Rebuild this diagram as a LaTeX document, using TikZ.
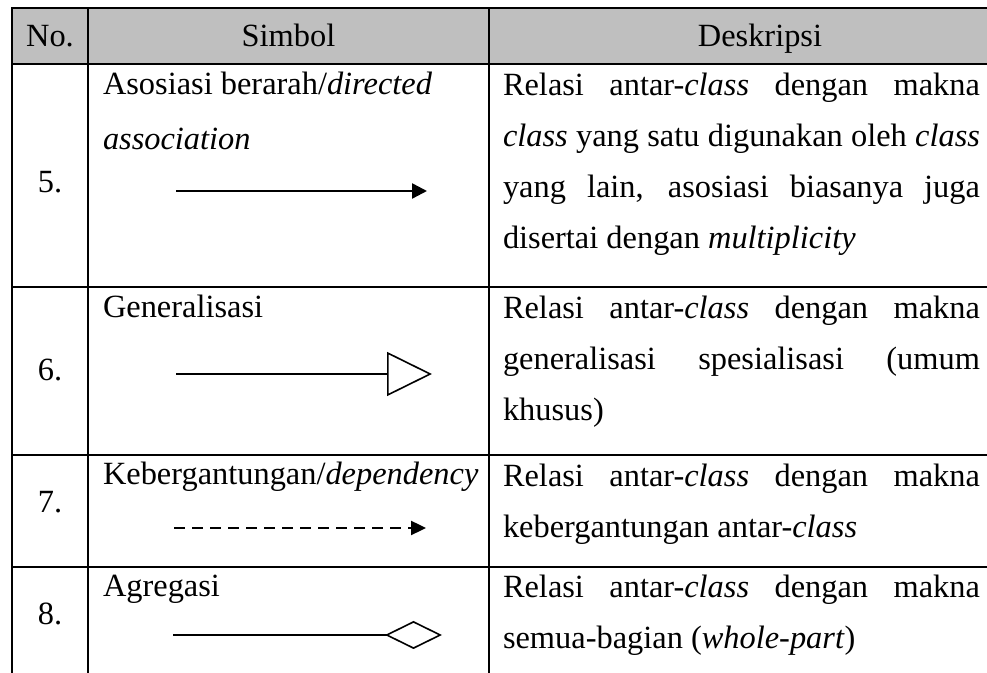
\documentclass[tikz,border=0pt]{standalone}
\usepackage{fontspec}
\setmainfont{Liberation Serif}
\usepackage{tikz}
\usetikzlibrary{arrows.meta}
\usetikzlibrary{positioning}
\definecolor{hdrgray}{HTML}{BFBFBF}
\tikzstyle{grid}=[line width=1.1pt, line cap=rect]
\tikzstyle{Afont}=[font=\fontsize{16.2pt}{25.5pt}\selectfont, inner sep=0, outer sep=0]
\tikzstyle{Ahdr}=[Afont, anchor=base]
\tikzstyle{Anum}=[Afont, anchor=base]
\tikzstyle{Asym}=[Afont, anchor=base west, align=left]
\tikzstyle{Adesc}=[Afont, anchor=base west, text width=238.5pt, align=justify]
\tikzstyle{assoc}=[line width=1.2pt, -{Triangle[length=7.5pt,width=7.5pt]}]
\tikzstyle{gener}=[line width=0.8pt, -{Triangle[open,length=22.5pt,width=22pt]}]
\tikzstyle{depend}=[line width=1.2pt, dash pattern=on 5.5pt off 3.5pt, -{Triangle[length=7.5pt,width=7pt]}]
\tikzstyle{aggr}=[line width=0.8pt, -{Diamond[open,length=28.5pt,width=14pt]}]
\newcommand{\nomor}[2]{\node[Anum] (n#1) at (50,#2) {#1.};}
\newcommand{\ujung}[4]{\coordinate (#1s) at (#2,#4);\coordinate (#1e) at (#3,#4);}
\begin{document}
\begin{tikzpicture}[x=0.5pt, y=-0.5pt]
	\useasboundingbox (0,0) rectangle (987,673);
	\fill[hdrgray] (12,8) rectangle (987,64);
	\foreach \y in {8,64,287,455,567} \draw[grid] (12,\y) -- (987,\y);
	\foreach \x in {12,88,489} \draw[grid] (\x,8) -- (\x,673);

	\node[Ahdr] (hno) at (50,47) {No.};
	\node[Ahdr] (hsim) at (288.5,47) {Simbol};
	\node[Ahdr] (hdes) at (760,47) {Deskripsi};

	\nomor{5}{193};
	\nomor{6}{381};
	\nomor{7}{513};
	\nomor{8}{625};

	% base of a two-line node sits on its last line
	\node[Asym] (s5) at (103,150) {Asosiasi berarah/\textit{directed}\\[2pt]\textit{association}};
	\node[Asym] (s6) at (103,318) {Generalisasi};
	\node[Asym] (s7) at (103,485) {Kebergantungan/\textit{dependency}};
	\node[Asym] (s8) at (103,597) {Agregasi};

	\ujung{a5}{176}{427}{191};
	\ujung{a6}{176}{432}{374};
	\ujung{a7}{174}{426}{528};
	\ujung{a8}{173}{442}{635};
	\draw[assoc] (a5s) -- (a5e);
	\draw[gener] (a6s) -- (a6e);
	\draw[depend] (a7s) -- (a7e);
	\draw[aggr] (a8s) -- (a8e);

	\node[Adesc] (d5) at (503,96) {Relasi antar-\textit{class} dengan makna\linebreak \textit{class} yang satu digunakan oleh \textit{class}\linebreak yang lain, asosiasi biasanya juga\linebreak disertai dengan \textit{multiplicity}};
	\node[Adesc] (d6) at (503,319) {Relasi antar-\textit{class} dengan makna\linebreak generalisasi spesialisasi (umum\linebreak khusus)};
	\node[Adesc] (d7) at (503,487) {Relasi antar-\textit{class} dengan makna\linebreak kebergantungan antar-\textit{class}};
	\node[Adesc] (d8) at (503,598) {Relasi antar-\textit{class} dengan makna\linebreak semua-bagian (\textit{whole-part})};
\end{tikzpicture}
\end{document}
